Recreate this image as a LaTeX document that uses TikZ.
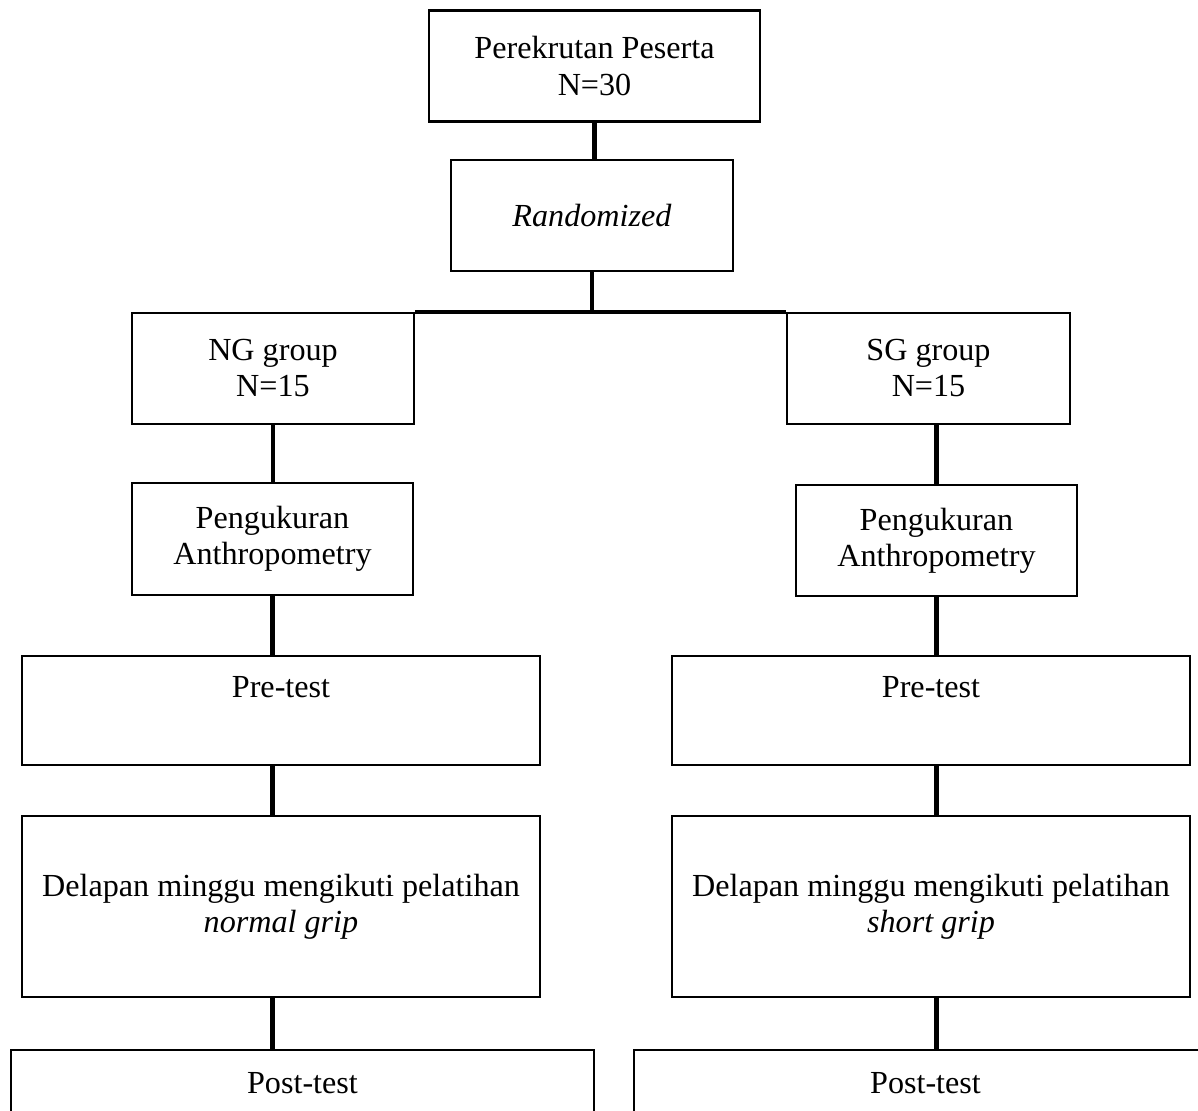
\documentclass[tikz,border=0pt]{standalone}
\usepackage{fontspec}
\setmainfont{Liberation Serif}
\usetikzlibrary{positioning}

\tikzset{
  box/.style={draw, line width=1.5pt, align=center, inner sep=0pt,
    font=\fontsize{18.3}{20.5}\selectfont},
  link/.style={line width=2.3pt}
}

\begin{document}
\begin{tikzpicture}[x=0.02cm, y=-0.02cm]
		  \useasboundingbox (0,0) rectangle (1198,1111);
		  \clip (0,0) rectangle (1198,1111);
		  % top of the chart
		  \node[box, minimum width=6.62cm, minimum height=2.22cm] (rekrut) at (594.5,66) {Perekrutan Peserta\\N=30};
		  \node[box, minimum width=5.64cm, minimum height=2.22cm] (acak) at (592,215.5) {\textit{Randomized}};
		  % the two groups
		  \node[box, minimum width=5.64cm, minimum height=2.22cm] (ng) at (273,368.5) {NG group\\N=15};
		  \node[box, minimum width=5.66cm, minimum height=2.22cm] (sg) at (928.5,368.5) {SG group\\N=15};
		  \node[box, minimum width=5.62cm, minimum height=2.24cm] (ngukur) at (272.5,539) {Pengukuran\\Anthropometry};
		  \node[box, minimum width=5.62cm, minimum height=2.22cm] (sgukur) at (936.5,540.5) {Pengukuran\\Anthropometry};
		  \node[box, minimum width=10.36cm, minimum height=2.18cm] (ngpre) at (281,710.5) {Pre-test\\ \strut};
		  \node[box, minimum width=10.36cm, minimum height=2.18cm] (sgpre) at (931,710.5) {Pre-test\\ \strut};
		  \node[box, minimum width=10.36cm, minimum height=3.62cm] (nglatih) at (281,906.5) {Delapan minggu mengikuti pelatihan\\\textit{normal grip}};
		  \node[box, minimum width=10.36cm, minimum height=3.62cm] (sglatih) at (931,906.5) {Delapan minggu mengikuti pelatihan\\\textit{short grip}};
		  \node[box, minimum width=11.66cm, minimum height=2.24cm] (ngpost) at (302.5,1106) {Post-test\\ \strut};
		  \node[box, minimum width=11.66cm, minimum height=2.24cm] (sgpost) at (925.5,1106) {Post-test\\ \strut};
		  % connectors
		  \draw[link] (rekrut.south) -- (rekrut.south |- acak.north);
		  \draw[link] (acak.south) -- (acak.south |- ng.north);
		  \draw[link] (ng.north east) -- (sg.north west);
		  \draw[link] (ng.south) -- (ngukur.north -| ng.south);
		  \draw[link] (ngukur.south) -- (ngpre.north -| ngukur.south);
		  \draw[link] (ngpre.south -| ngukur.south) -- (nglatih.north -| ngukur.south);
		  \draw[link] (nglatih.south -| ngukur.south) -- (ngpost.north -| ngukur.south);
		  \draw[link] (sg.south -| sgukur.north) -- (sgukur.north);
		  \draw[link] (sgukur.south) -- (sgpre.north -| sgukur.south);
		  \draw[link] (sgpre.south -| sgukur.south) -- (sglatih.north -| sgukur.south);
		  \draw[link] (sglatih.south -| sgukur.south) -- (sgpost.north -| sgukur.south);
		\end{tikzpicture}
\end{document}
